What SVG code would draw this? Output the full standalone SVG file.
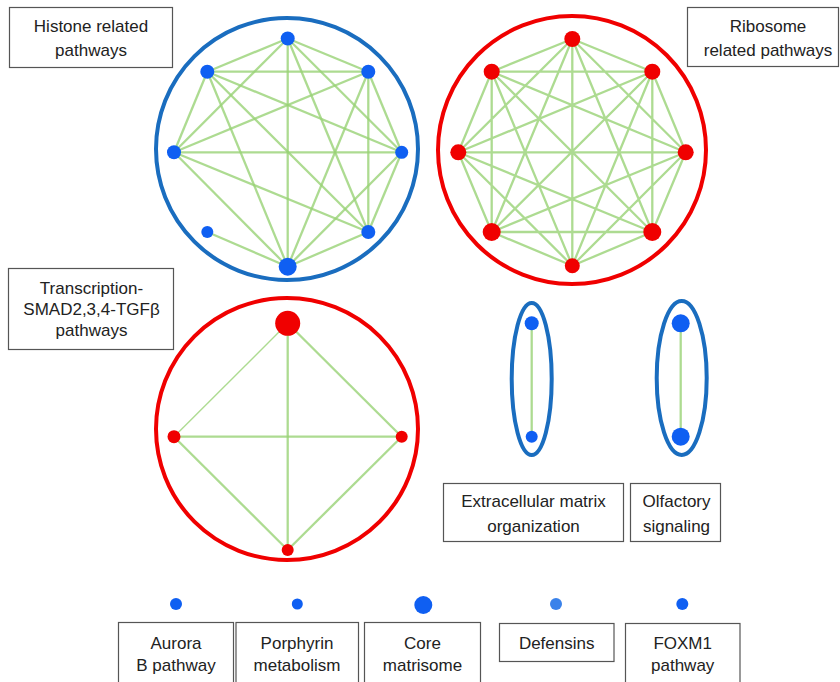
<svg xmlns="http://www.w3.org/2000/svg" width="840" height="682" viewBox="0 0 840 682">
<style>
.lbl{fill:#fff;stroke:#555;stroke-width:1.2}
.t{font-family:"Liberation Sans",Arial,sans-serif;font-size:17px;fill:#222;text-anchor:middle}
.e{stroke:#98d276;stroke-width:2.3;stroke-opacity:0.8;fill:none}
.bo{fill:none;stroke:#1a6dbf;stroke-width:4}
.ro{fill:none;stroke:#f00000;stroke-width:4}
.b{fill:#0f5ff2}
.r{fill:#f00000}
</style>
<rect width="840" height="682" fill="#fff"/>

<g id="clusters">
<circle cx="287" cy="149" r="131" class="bo"/>
<circle cx="572" cy="150" r="134" class="ro"/>
<circle cx="287" cy="429" r="131" class="ro"/>
<ellipse cx="531.7" cy="379" rx="20" ry="76" class="bo"/>
<ellipse cx="681.7" cy="378" rx="25" ry="77" class="bo"/>
</g>

<g id="connectors" class="e">
<!-- Histone -->
<line x1="287.7" y1="38.5" x2="207.3" y2="71.7"/>
<line x1="287.7" y1="38.5" x2="368.3" y2="71.7"/>
<line x1="287.7" y1="38.5" x2="174" y2="152.3"/>
<line x1="287.7" y1="38.5" x2="287.7" y2="266.7"/>
<line x1="287.7" y1="38.5" x2="368.3" y2="232"/>
<line x1="287.7" y1="38.5" x2="401.7" y2="152.3"/>
<line x1="207.3" y1="71.7" x2="368.3" y2="71.7"/>
<line x1="207.3" y1="71.7" x2="174" y2="152.3"/>
<line x1="207.3" y1="71.7" x2="401.7" y2="152.3"/>
<line x1="207.3" y1="71.7" x2="368.3" y2="232"/>
<line x1="207.3" y1="71.7" x2="287.7" y2="266.7"/>
<line x1="368.3" y1="71.7" x2="174" y2="152.3"/>
<line x1="368.3" y1="71.7" x2="401.7" y2="152.3"/>
<line x1="368.3" y1="71.7" x2="368.3" y2="232"/>
<line x1="368.3" y1="71.7" x2="287.7" y2="266.7"/>
<line x1="174" y1="152.3" x2="401.7" y2="152.3"/>
<line x1="174" y1="152.3" x2="368.3" y2="232"/>
<line x1="174" y1="152.3" x2="287.7" y2="266.7"/>
<line x1="401.7" y1="152.3" x2="368.3" y2="232"/>
<line x1="401.7" y1="152.3" x2="287.7" y2="266.7"/>
<line x1="207.3" y1="232" x2="287.7" y2="266.7"/>
<line x1="287.7" y1="266.7" x2="368.3" y2="232"/>
<!-- Ribosome K8 -->
<path d="M572.3 39L491.7 71.7M572.3 39L652.3 71.7M572.3 39L458.3 152.3M572.3 39L685.7 152.3M572.3 39L491.7 232M572.3 39L652.3 232M572.3 39L572.3 265.7
M491.7 71.7L652.3 71.7M491.7 71.7L458.3 152.3M491.7 71.7L685.7 152.3M491.7 71.7L491.7 232M491.7 71.7L652.3 232M491.7 71.7L572.3 265.7
M652.3 71.7L458.3 152.3M652.3 71.7L685.7 152.3M652.3 71.7L491.7 232M652.3 71.7L652.3 232M652.3 71.7L572.3 265.7
M458.3 152.3L685.7 152.3M458.3 152.3L491.7 232M458.3 152.3L652.3 232M458.3 152.3L572.3 265.7
M685.7 152.3L491.7 232M685.7 152.3L652.3 232M685.7 152.3L572.3 265.7
M491.7 232L652.3 232M491.7 232L572.3 265.7
M652.3 232L572.3 265.7"/>
<!-- Transcription -->
<line x1="287.7" y1="323.3" x2="174" y2="436.7" stroke-width="1.4"/>
<line x1="287.7" y1="323.3" x2="287.7" y2="550"/>
<line x1="287.7" y1="323.3" x2="401.7" y2="436.7"/>
<line x1="174" y1="436.7" x2="401.7" y2="436.7"/>
<line x1="174" y1="436.7" x2="287.7" y2="550"/>
<line x1="401.7" y1="436.7" x2="287.7" y2="550"/>
<!-- Small clusters -->
<line x1="531.7" y1="323.3" x2="531.7" y2="436.7"/>
<line x1="680.7" y1="323.3" x2="680.7" y2="436.7"/>
</g>

<g id="histone-nodes" class="b">
<circle cx="287.7" cy="38.5" r="7"/>
<circle cx="207.3" cy="71.7" r="7"/>
<circle cx="368.3" cy="71.7" r="7"/>
<circle cx="174" cy="152.3" r="7"/>
<circle cx="401.7" cy="152.3" r="6.5"/>
<circle cx="207.3" cy="232" r="6"/>
<circle cx="368.3" cy="232" r="7"/>
<circle cx="287.7" cy="266.7" r="9"/>
</g>
<g id="ribosome-nodes" class="r">
<circle cx="572.3" cy="39" r="8"/>
<circle cx="491.7" cy="71.7" r="8"/>
<circle cx="652.3" cy="71.7" r="8"/>
<circle cx="458.3" cy="152.3" r="8"/>
<circle cx="685.7" cy="152.3" r="8"/>
<circle cx="491.7" cy="232" r="9"/>
<circle cx="652.3" cy="232" r="9"/>
<circle cx="572.3" cy="265.7" r="7.5"/>
</g>
<g id="transcription-nodes" class="r">
<circle cx="287.7" cy="323.3" r="12.5"/>
<circle cx="174" cy="436.7" r="6.5"/>
<circle cx="401.7" cy="436.7" r="6"/>
<circle cx="287.7" cy="550" r="6"/>
</g>
<g id="ecm-nodes" class="b">
<circle cx="531.7" cy="323.3" r="7"/>
<circle cx="531.7" cy="436.7" r="6"/>
</g>
<g id="olfactory-nodes" class="b">
<circle cx="680.7" cy="323.3" r="9"/>
<circle cx="680.7" cy="436.7" r="9"/>
</g>
<g id="single-nodes" class="b">
<circle cx="176" cy="604" r="6"/>
<circle cx="297.3" cy="604" r="5.5"/>
<circle cx="423.3" cy="605" r="9"/>
<circle cx="556" cy="604" r="6" fill="#3a82ea"/>
<circle cx="682.3" cy="604" r="6"/>
</g>

<g id="label-histone">
<rect x="9.5" y="7.5" width="163" height="60" class="lbl"/>
<text class="t" x="91" y="31.5">Histone related</text>
<text class="t" x="91" y="56">pathways</text>
</g>
<g id="label-ribosome">
<rect x="687.5" y="7.5" width="151" height="59" class="lbl"/>
<text class="t" x="768" y="31.5">Ribosome</text>
<text class="t" x="768" y="56">related pathways</text>
</g>
<g id="label-transcription">
<rect x="8.5" y="268.5" width="165" height="81" class="lbl"/>
<text class="t" x="91.5" y="293.5">Transcription-</text>
<text class="t" x="91.5" y="315">SMAD2,3,4-TGFβ</text>
<text class="t" x="91.5" y="336">pathways</text>
</g>
<g id="label-ecm">
<rect x="443.5" y="483.5" width="180" height="58" class="lbl"/>
<text class="t" x="533.5" y="506.5">Extracellular matrix</text>
<text class="t" x="533.5" y="531.5">organization</text>
</g>
<g id="label-olfactory">
<rect x="630.5" y="483.5" width="90" height="58" class="lbl"/>
<text class="t" x="676.5" y="506.5">Olfactory</text>
<text class="t" x="676.5" y="531.5">signaling</text>
</g>
<g id="label-aurora">
<rect x="118.5" y="622.5" width="115" height="70" class="lbl"/>
<text class="t" x="176" y="649">Aurora</text>
<text class="t" x="176" y="671">B pathway</text>
</g>
<g id="label-porphyrin">
<rect x="236" y="622.5" width="122.5" height="70" class="lbl"/>
<text class="t" x="297" y="649">Porphyrin</text>
<text class="t" x="297" y="671">metabolism</text>
</g>
<g id="label-core">
<rect x="364.5" y="622.5" width="116" height="70" class="lbl"/>
<text class="t" x="422.5" y="649">Core</text>
<text class="t" x="422.5" y="671">matrisome</text>
</g>
<g id="label-defensins">
<rect x="499.5" y="623.5" width="114.5" height="38" class="lbl"/>
<text class="t" x="556.7" y="649">Defensins</text>
</g>
<g id="label-foxm1">
<rect x="625.5" y="623.5" width="114.5" height="70" class="lbl"/>
<text class="t" x="682.7" y="649">FOXM1</text>
<text class="t" x="682.7" y="671">pathway</text>
</g>
</svg>
